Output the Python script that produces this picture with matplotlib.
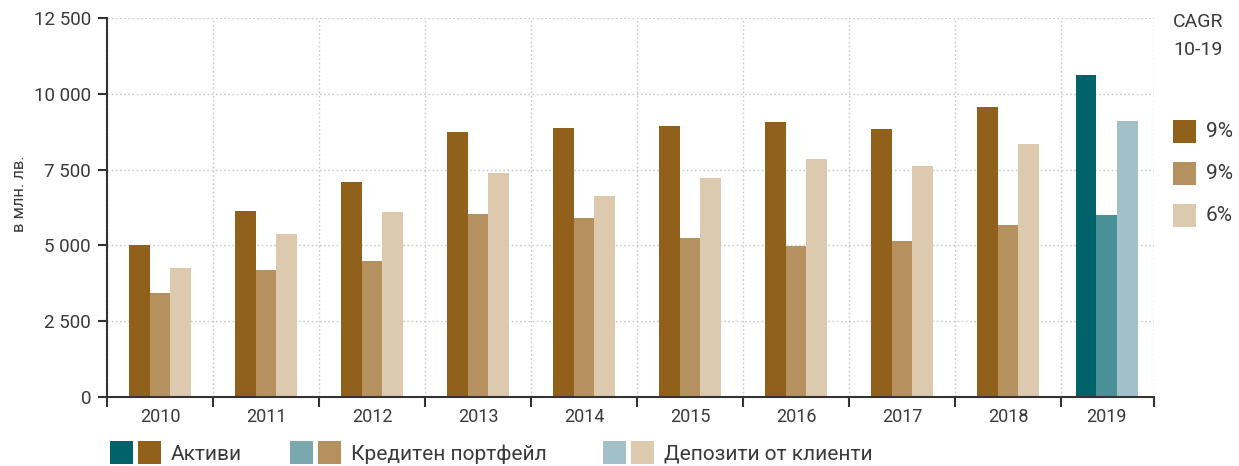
import matplotlib
matplotlib.use("Agg")
import matplotlib.pyplot as plt
from matplotlib.patches import Rectangle
from matplotlib.ticker import FuncFormatter
import numpy as np

years = ["2010", "2011", "2012", "2013", "2014", "2015", "2016", "2017", "2018", "2019"]
assets = [5000, 6130, 7080, 8730, 8875, 8940, 9075, 8830, 9560, 10625]
loans = [3425, 4185, 4480, 6030, 5900, 5240, 4980, 5135, 5660, 6000]
deposits = [4250, 5370, 6095, 7380, 6630, 7220, 7850, 7610, 8335, 9105]
series_names = ["Активи", "Кредитен портфейл", "Депозити от клиенти"]
cagr = ["9%", "9%", "6%"]
yticks = [0, 2500, 5000, 7500, 10000, 12500]

brown = ["#91601A", "#B69160", "#DCC9AE"]
teal = ["#00636B", "#4A9098", "#A2C0C7"]
teal_leg = ["#00636B", "#7AA8AE", "#A2C0C7"]
txt = "#3a3a3a"
axc = "#333333"

plt.rcParams['font.family'] = ['Roboto', 'DejaVu Sans']
plt.rcParams['font.weight'] = 'normal'

W, H = 1239, 466
fig = plt.figure(figsize=(W / 100, H / 100), dpi=100)
ax = fig.add_axes([107 / W, 1 - 397 / H, (1154 - 107) / W, (397 - 18) / H])

n = len(years)
x = np.arange(n, dtype=float)
x[-1] -= 0.07  # last group sits slightly left in the reference
bw = 0.195
for i, vals in enumerate([assets, loans, deposits]):
    cols = [brown[i]] * (n - 1) + [teal[i]]
    ax.bar(x + (i - 1) * bw, vals, width=bw, color=cols, zorder=3, linewidth=0)

ax.set_xlim(-0.5, 9.377)
ax.set_ylim(0, 12500)
ax.set_yticks(yticks)
ax.yaxis.set_major_formatter(FuncFormatter(lambda v, p: f"{int(v):,}".replace(",", " ")))
ax.set_xticks(x)
ax.set_xticklabels(years)
bounds = list(np.arange(n) - 0.5) + [9.377]
ax.set_xticks(bounds, minor=True)

ax.tick_params(axis='x', which='major', length=0, pad=8, labelsize=13, labelcolor=txt)
ax.tick_params(axis='x', which='minor', length=7, width=1.5, color=axc, direction='out')
ax.tick_params(axis='y', length=6.5, width=1.5, color=axc, pad=5, labelsize=13.5, labelcolor=txt)

ax.grid(axis='y', which='major', linestyle=(0, (1.2, 1.8)), color='#c8c8c8', linewidth=1.0, zorder=0)
ax.grid(axis='x', which='minor', linestyle=(0, (1.2, 1.8)), color='#c8c8c8', linewidth=1.0, zorder=0)
ax.grid(axis='x', which='major', visible=False)

for s in ['top', 'right']:
    ax.spines[s].set_visible(False)
for s in ['left', 'bottom']:
    ax.spines[s].set_color(axc)
    ax.spines[s].set_linewidth(1.5)
    ax.spines[s].set_zorder(4)

fig.text(20 / W, 1 - 194 / H, "в млн. лв.", rotation=90, ha='center', va='center',
         fontsize=12, color=txt)

# Bottom legend
sq = 23
leg_x = [110, 290, 603]
for i, name in enumerate(series_names):
    x0 = leg_x[i]
    for j, c in enumerate([teal_leg[i], brown[i]]):
        fig.patches.append(Rectangle(((x0 + j * 28) / W, 1 - 464 / H), sq / W, sq / H,
                                     transform=fig.transFigure, color=c, linewidth=0))
    fig.text((x0 + 61) / W, 1 - 454 / H, name, ha='left', va='center', fontsize=15, color=txt)

# CAGR legend
fig.text(1173 / W, 1 - 22 / H, "CAGR", ha='left', va='center', fontsize=14, color=txt)
fig.text(1173 / W, 1 - 50 / H, "10-19", ha='left', va='center', fontsize=14, color=txt)
for i, v in enumerate(cagr):
    yc = 131.5 + 42 * i
    fig.patches.append(Rectangle((1173 / W, 1 - (yc + 11.5) / H), sq / W, sq / H,
                                 transform=fig.transFigure, color=brown[i], linewidth=0))
    fig.text(1206 / W, 1 - yc / H, v, ha='left', va='center', fontsize=15, color=txt)

fig.savefig("out.png", dpi=100)
